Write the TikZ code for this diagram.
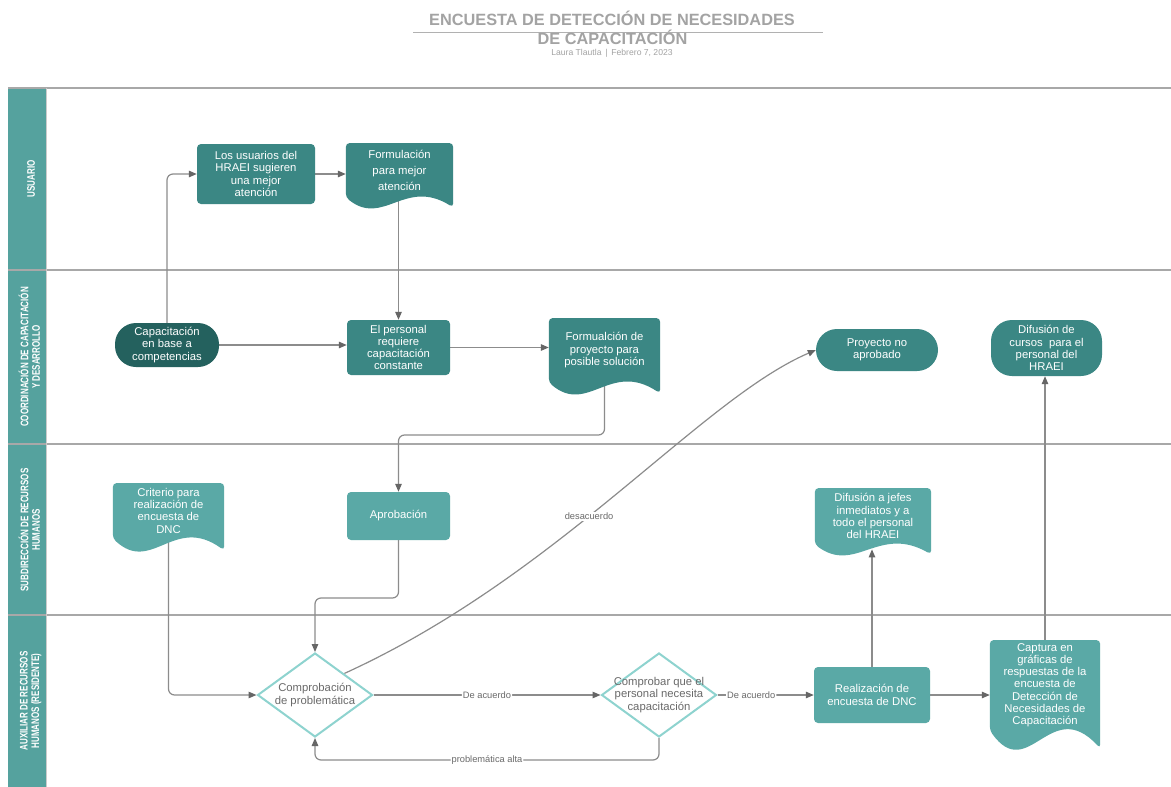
\documentclass[tikz,border=0pt]{standalone}
\usepackage{fontspec}
\setmainfont{Liberation Sans}
\usetikzlibrary{shapes.geometric,arrows.meta,calc}
\pgfdeclarelayer{bg}\pgfdeclarelayer{lines}\pgfdeclarelayer{docs}
\pgfsetlayers{bg,lines,docs,main}
\definecolor{tealdark}{HTML}{3B8784}
\definecolor{tealdeep}{HTML}{24615E}
\definecolor{teallight}{HTML}{5AA9A6}
\definecolor{lanecol}{HTML}{55A29E}
\definecolor{diaborder}{HTML}{8ED3CF}
\definecolor{linegray}{HTML}{8C8C8C}
\definecolor{arrowgray}{HTML}{666666}
\definecolor{lanegray}{HTML}{A8A8A8}
\definecolor{labelgray}{HTML}{6A6A6A}
\definecolor{titlegray}{HTML}{A3A3A3}
\newcommand\myboxfont{\fontsize{11.3}{12.3}\selectfont}
\newcommand\docshape[3]{%
  \begin{pgfonlayer}{docs}
  \fill[#2, rounded corners=4pt] (#1.north west) -- (#1.north east) -- ($(#1.south east)+(0,#3)$)
    .. controls ($(#1.south west)!0.55!(#1.south east)+(0,-2*#3)$) and ($(#1.south west)!0.35!(#1.south east)+(0,3*#3)$) .. (#1.south west) -- cycle;
  \end{pgfonlayer}}
\tikzset{
  box/.style={rectangle, rounded corners=4pt, text=white, align=center, font=\myboxfont, inner sep=2pt},
  rectdark/.style={box, fill=tealdark},
  rectlight/.style={box, fill=teallight},
  pill/.style={box, rounded corners=21pt},
  docnode/.style={rectangle, text=white, align=center, font=\myboxfont, inner sep=0pt, anchor=north},
  dia/.style={diamond, draw=diaborder, line width=2pt, fill=white, inner sep=0pt, minimum width=115pt, minimum height=84pt},
  diatext/.style={text=labelgray, align=center, font=\myboxfont},
  conn/.style={draw=linegray, line width=1.2pt, rounded corners=6pt},
  arr/.style={conn, -{Triangle[length=8pt,width=6.5pt,color=arrowgray]}},
  elabel/.style={fill=white, text=labelgray, font=\fontsize{9.3}{11}\selectfont, inner sep=1pt},
  lanelabel/.style={text=white, font=\fontsize{11}{11.5}\selectfont\bfseries, rotate=90, align=center, inner sep=0pt},
  titlestyle/.style={text=titlegray, font=\fontsize{16.3}{18}\selectfont\bfseries, anchor=base, inner sep=0pt},
}
\begin{document}
\begin{tikzpicture}[x=1pt, y=-1pt]
\useasboundingbox (0,0) rectangle (1171,787);
% ---------- lanes ----------
\begin{pgfonlayer}{bg}
\fill[white] (0,0) rectangle (1171,787);
\fill[lanecol] (8,88) rectangle (46,787);
\draw[lanegray, line width=1.3pt] (8,88) -- (1171,88);
\draw[lanegray, line width=1.3pt] (8,270) -- (1171,270);
\draw[lanegray, line width=1.3pt] (8,444) -- (1171,444);
\draw[lanegray, line width=1.3pt] (8,615) -- (1171,615);
\draw[lanegray!60, line width=0.8pt] (46,88) -- (46,787);
\end{pgfonlayer}
\node[lanelabel] (l1) at (31,179) {\scalebox{0.73}[1]{USUARIO}};
\node[lanelabel] (l2) at (31,357) {\scalebox{0.73}[1]{\begin{tabular}{@{}c@{}}COORDINACIÓN DE CAPACITACIÓN\\Y DESARROLLO\end{tabular}}};
\node[lanelabel] (l3) at (31,530) {\scalebox{0.73}[1]{\begin{tabular}{@{}c@{}}SUBDIRECCIÓN DE RECURSOS\\HUMANOS\end{tabular}}};
\node[lanelabel] (l4) at (31,701) {\scalebox{0.73}[1]{\begin{tabular}{@{}c@{}}AUXILIAR DE RECURSOS\\HUMANOS (RESIDENTE)\end{tabular}}};
% ---------- title ----------
\node[titlestyle] (t1) at (612,25.9) {ENCUESTA DE DETECCIÓN DE NECESIDADES};
\draw[titlegray!85, line width=0.9pt] (413,32) -- (823,32);
\node[titlestyle] (t2) at (612.5,44.8) {DE CAPACITACIÓN};
\node[text=titlegray, font=\fontsize{8.6}{10}\selectfont, anchor=base, inner sep=0pt] (t3) at (612,55.5) {Laura Tlautla \,|\, Febrero 7, 2023};
% ---------- nodes ----------
\node[rectdark, minimum width=118pt, minimum height=60pt] (usr) at (256,174) {Los usuarios del\\HRAEI sugieren\\una mejor\\atención};
\node[docnode, minimum width=107pt, minimum height=54pt, font=\fontsize{11.3}{16}\selectfont] (form) at (399.5,143) {Formulación\\para mejor\\atención};
\node[pill, fill=tealdeep, minimum width=104pt, minimum height=44pt] (cap) at (167,345) {Capacitación\\en base a\\competencias};
\node[rectdark, minimum width=103pt, minimum height=55pt] (per) at (398.5,347.5) {El personal\\requiere\\capacitación\\constante};
\node[docnode, minimum width=111pt, minimum height=64pt] (fp) at (604.5,318) {Formualción de\\proyecto para\\posible solución};
\node[pill, fill=tealdark, minimum width=122pt, minimum height=42pt] (pna) at (877,350) {Proyecto no\\aprobado};
\node[pill, fill=tealdark, minimum width=111pt, minimum height=56pt] (dif) at (1046.5,348) {Difusión de\\cursos~ para el\\personal del\\HRAEI};
\node[docnode, minimum width=111pt, minimum height=55pt] (crit) at (168.5,483) {Criterio para\\realización de\\encuesta de\\DNC};
\node[rectlight, minimum width=103pt, minimum height=48pt] (apr) at (398.5,516) {Aprobación};
\node[docnode, minimum width=116pt, minimum height=56pt] (dj) at (873,488) {Difusión a jefes\\inmediatos y a\\todo el personal\\del HRAEI};
\node[dia] (cp) at (315,695) {};
\node[diatext] (cpt) at (cp.center) {Comprobación\\de problemática};
\node[dia] (cc) at (659,695) {};
\node[diatext] (cct) at (cc.center) {Comprobar que el\\personal necesita\\capacitación};
\node[rectlight, minimum width=116pt, minimum height=56pt] (real) at (872,695) {Realización de\\encuesta de DNC};
\node[docnode, minimum width=110pt, minimum height=90pt] (capt) at (1045,640) {Captura en\\gráficas de\\respuestas de la\\encuesta de\\Detección de\\Necesidades de\\Capacitación};
% document shapes
\docshape{form}{tealdark}{10}
\docshape{fp}{tealdark}{11}
\docshape{crit}{teallight}{12}
\docshape{dj}{teallight}{10}
\docshape{capt}{teallight}{18}
% ---------- connectors ----------
\coordinate (j1) at (604.5,435);
\coordinate (j2) at (398.5,598);
\coordinate (j4) at (659,760);
\coordinate (djb) at ([yshift=-5pt]dj.south);
\begin{pgfonlayer}{lines}
\draw[arr] (cap.north) |- (usr.west);
\draw[arr] (usr.east) -- (usr.east -| form.west);
\draw[arr] (per.north |- form.south) -- (per.north);
\draw[arr] (cap.east) -- (cap.east -| per.west);
\draw[arr] (per.east) -- (per.east -| fp.west);
\draw[arr] (fp.south) -- (j1) -| (apr.north);
\draw[arr] (apr.south) -- (j2) -| (cp.north);
\draw[arr] (crit.south) |- (cp.west);
\draw[arr] (cp.north east) .. controls +(215,-98) and +(-116,50) .. (pna.west) node[elabel, pos=0.44] (lbl1) {desacuerdo};
\draw[arr] (cp.east) -- node[elabel] (lbl2) {De acuerdo} (cc.west);
\draw[arr] (cc.east) -- node[elabel, pos=0.35] (lbl3) {De acuerdo} (real.west);
\draw[arr] (cc.south) -- (j4) -| node[elabel, pos=0.25] (lbl4) {problemática alta} (cp.south);
\draw[arr] (real.north) -- (real.north |- djb);
\draw[arr] (real.east) -- (real.east -| capt.west);
\draw[arr] (capt.north) -- (capt.north |- dif.south);
\end{pgfonlayer}
\end{tikzpicture}
\end{document}
